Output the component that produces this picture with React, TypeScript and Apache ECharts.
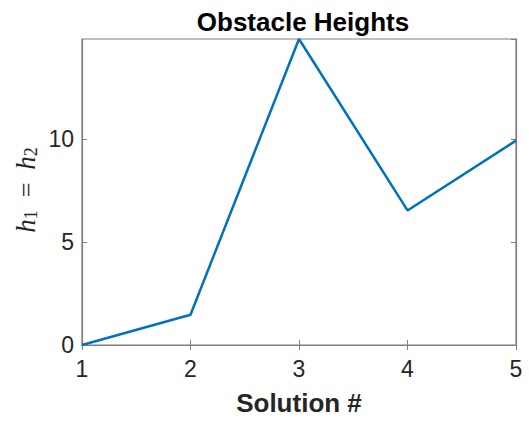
import React, { useEffect, useRef } from "react";
import * as echarts from "echarts";

const solutions = [1, 2, 3, 4, 5];
const heights = [0, 1.47, 14.85, 6.53, 9.92];
const xTicks = [1, 2, 3, 4, 5];
const yTicks = [0, 5, 10];
const titleText = "Obstacle Heights";
const xLabel = "Solution #";

export default function App() {
  const ref = useRef<HTMLDivElement>(null);
  useEffect(() => {
    if (!ref.current) return;
    const chart = echarts.init(ref.current, undefined, { renderer: "svg" });
    const axisColor = "#262626";
    const lineColor = "#7f7f7f";
    const yMax = Math.max(...heights);
    const font = "'Liberation Sans', Arial, Helvetica, sans-serif";
    const serif = "'Liberation Serif', 'DejaVu Serif', serif";
    chart.setOption({
      animation: false,
      backgroundColor: "#ffffff",
      title: {
        text: titleText,
        left: 298,
        top: 4,
        textAlign: "center",
        textStyle: { fontFamily: font, fontWeight: "bold", fontSize: 26, color: "#000" },
      },
      grid: {
        left: 82,
        right: 13,
        top: 39,
        bottom: 75,
        show: true,
        borderColor: lineColor,
        borderWidth: 1.2,
        backgroundColor: "transparent",
      },
      xAxis: [
        {
          type: "value",
          min: xTicks[0],
          max: xTicks[xTicks.length - 1],
          interval: 1,
          name: xLabel,
          nameLocation: "middle",
          nameGap: 45,
          nameTextStyle: { fontFamily: font, fontWeight: "bold", fontSize: 26, color: "#262626" },
          axisLine: { show: true, lineStyle: { color: lineColor, width: 1.2 } },
          axisTick: { show: true, inside: true, length: 5, lineStyle: { color: lineColor } },
          axisLabel: { fontFamily: font, fontSize: 23, color: axisColor, margin: 12 },
          splitLine: { show: false },
        },
        {
          type: "value",
          position: "top",
          min: xTicks[0],
          max: xTicks[xTicks.length - 1],
          interval: 1,
          axisLine: { show: true, lineStyle: { color: lineColor, width: 1.2 } },
          axisTick: { show: true, inside: true, length: 5, lineStyle: { color: lineColor } },
          axisLabel: { show: false },
          splitLine: { show: false },
        },
      ],
      yAxis: [
        {
          type: "value",
          min: 0,
          max: yMax,
          interval: 5,
          axisLine: { show: true, lineStyle: { color: lineColor, width: 1.2 } },
          axisTick: { show: true, inside: true, length: 5, lineStyle: { color: lineColor } },
          axisLabel: {
            fontFamily: font,
            fontSize: 23,
            color: axisColor,
            margin: 8,
            showMaxLabel: false,
            formatter: (v: number) => (yTicks.includes(v) ? String(v) : ""),
          },
          splitLine: { show: false },
        },
        {
          type: "value",
          position: "right",
          min: 0,
          max: yMax,
          interval: 5,
          axisLine: { show: true, lineStyle: { color: lineColor, width: 1.2 } },
          axisTick: { show: true, inside: true, length: 5, lineStyle: { color: lineColor } },
          axisLabel: { show: false },
          splitLine: { show: false },
        },
      ],
      graphic: [
        {
          type: "text",
          x: 26,
          y: 190,
          rotation: Math.PI / 2,
          style: {
            text: "{h|h}{s|1}{eq|  =  }{h|h}{s|2}",
            align: "center",
            verticalAlign: "middle",
            rich: {
              h: { fontFamily: serif, fontStyle: "italic", fontSize: 27, fill: axisColor },
              s: { fontFamily: serif, fontSize: 18, fill: axisColor, padding: [10, 0, 0, 0] },
              eq: { fontFamily: serif, fontSize: 26, fill: axisColor },
            },
          },
        },
      ],
      series: [
        {
          type: "line",
          xAxisIndex: 0,
          yAxisIndex: 0,
          data: solutions.map((s, i) => [s, heights[i]]),
          symbol: "none",
          lineStyle: { color: "#0072BD", width: 2.5 },
        },
      ],
    });
    return () => chart.dispose();
  }, []);
  return <div ref={ref} style={{ width: 529, height: 421, position: "absolute", left: 0, top: 0 }} />;
}
